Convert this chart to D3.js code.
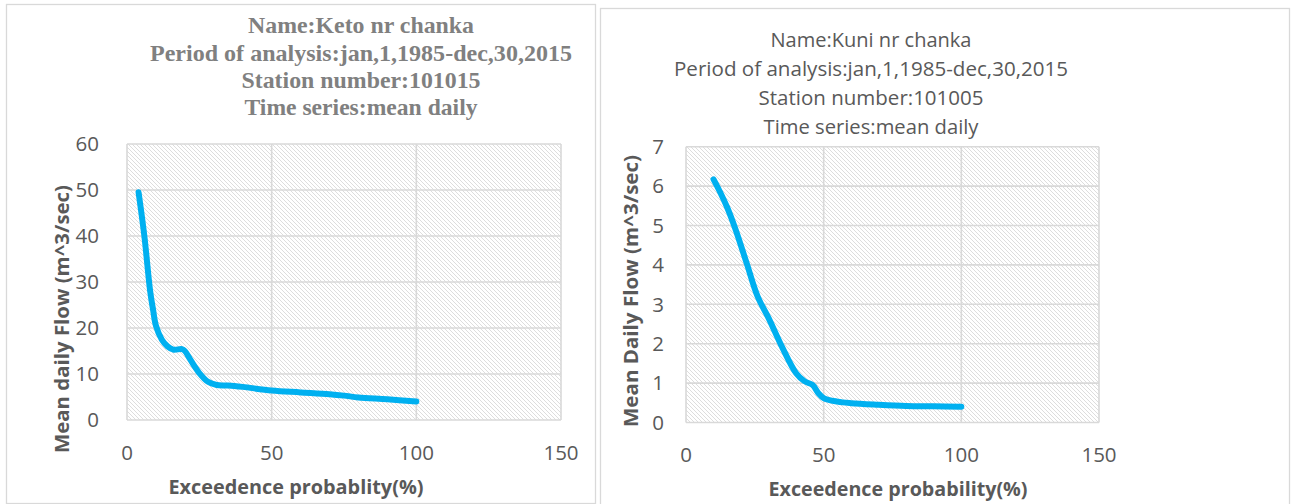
<!DOCTYPE html>
<html>
<head>
<meta charset="utf-8">
<title>Flow duration curves</title>
<script src="https://d3js.org/d3.v7.min.js"></script>
<style>
  body { margin: 0; background: #fff; }
  svg { display: block; }
</style>
</head>
<body>
<script>
// left chart: Keto nr chanka
const ketoTitle = ["Name:Keto nr chanka", "Period of analysis:jan,1,1985-dec,30,2015",
                   "Station number:101015", "Time series:mean daily"]
const ketoX = [4, 6, 8, 9, 10, 12, 14, 16, 19, 20, 22, 25, 28, 31, 35, 40, 50, 60, 70, 75, 80, 90, 100]
const ketoY = [49.5, 40, 28, 24, 20.5, 17.5, 16, 15.3, 15.4, 15, 13, 10.2, 8.3, 7.6, 7.5, 7.2, 6.4, 6.0, 5.6, 5.3, 4.9, 4.5, 4.0]
const ketoYTicks = [0, 10, 20, 30, 40, 50, 60]

// right chart: Kuni nr chanka
const kuniTitle = ["Name:Kuni nr chanka", "Period of analysis:jan,1,1985-dec,30,2015",
                   "Station number:101005", "Time series:mean daily"]
const kuniX = [10, 12, 15, 18, 22, 26, 30, 35, 40, 43, 46, 48, 50, 55, 60, 70, 80, 90, 100]
const kuniY = [6.17, 5.9, 5.45, 4.9, 4.05, 3.2, 2.65, 1.9, 1.25, 1.05, 0.95, 0.75, 0.62, 0.53, 0.49, 0.45, 0.42, 0.41, 0.40]
const kuniYTicks = [0, 1, 2, 3, 4, 5, 6, 7]

const xTicks = [0, 50, 100, 150]

const W = 1291, H = 504
const grid = "#d9d9d9", txt = "#595959", blue = "#00b0f0"

const svg = d3.select("body").append("svg").attr("width", W).attr("height", H)

// hatch fill of the plot areas
svg.append("defs").append("pattern")
  .attr("id", "hatch").attr("patternUnits", "userSpaceOnUse")
  .attr("width", 4).attr("height", 4)
  .selectAll("path").data(["M0,0L4,4", "M-1,3L1,5", "M3,-1L5,1"])
  .enter().append("path")
    .attr("d", d => d).attr("stroke", "#d4d4d4").attr("stroke-width", 0.8)

// fit a text to a width measured on the reference
const fit = (sel, w) => sel.attr("textLength", w).attr("lengthAdjust", "spacingAndGlyphs")

const chart = (o) => {
  svg.append("rect")
    .attr("x", o.box[0] + 0.5).attr("y", o.box[1] + 0.5)
    .attr("width", o.box[2] - o.box[0]).attr("height", o.box[3] - o.box[1])
    .attr("fill", "none").attr("stroke", grid).attr("stroke-width", 1.3)

  let x = d3.scaleLinear().domain([0, 150]).range(o.xr)
  let y = d3.scaleLinear().domain([0, d3.max(o.yTicks)]).range(o.yr)

  svg.append("rect")
    .attr("x", o.xr[0]).attr("y", o.yr[1])
    .attr("width", o.xr[1] - o.xr[0]).attr("height", o.yr[0] - o.yr[1])
    .attr("fill", "url(#hatch)")

  // gridlines
  svg.selectAll(null).data(o.yTicks).enter().append("line")
    .attr("x1", o.xr[0]).attr("x2", o.xr[1])
    .attr("y1", d => y(d)).attr("y2", d => y(d))
    .attr("stroke", grid).attr("stroke-width", 1.6)
  svg.selectAll(null).data(xTicks).enter().append("line")
    .attr("x1", d => x(d)).attr("x2", d => x(d))
    .attr("y1", o.yr[0]).attr("y2", o.yr[1])
    .attr("stroke", grid).attr("stroke-width", 1.6)

  // tick labels
  svg.selectAll(null).data(o.yTicks).enter().append("text")
    .attr("x", o.yLabX).attr("y", d => y(d)).attr("dy", "0.36em")
    .attr("text-anchor", "end")
    .style("font", "20.5px 'Open Sans'").attr("fill", txt)
    .text(d => d)
  svg.selectAll(null).data(xTicks).enter().append("text")
    .attr("x", d => x(d)).attr("y", o.xLabY)
    .attr("text-anchor", "middle")
    .style("font", "20.5px 'Open Sans'").attr("fill", txt)
    .text(d => d)

  // curve
  let pts = o.xs.map((d, i) => [d, o.ys[i]])
  svg.append("path")
    .datum(pts)
    .attr("d", d3.line().x(d => x(d[0])).y(d => y(d[1])).curve(d3.curveCatmullRom.alpha(0.5)))
    .attr("fill", "none").attr("stroke", blue).attr("stroke-width", 6)
    .attr("stroke-linecap", "round").attr("stroke-linejoin", "round")

  // titles
  o.title.forEach((t, i) => {
    svg.append("text")
      .attr("x", o.tx).attr("y", o.ty[i]).attr("text-anchor", "middle")
      .style("font", o.tfont).attr("fill", o.tcol)
      .text(t).call(fit, o.tw[i])
  })

  // axis titles
  svg.append("text")
    .attr("x", o.xtPos[0]).attr("y", o.xtPos[1]).attr("text-anchor", "middle")
    .style("font", "bold 20px 'Open Sans'").attr("fill", txt)
    .text(o.xTitle).call(fit, o.xtW)
  svg.append("text")
    .attr("transform", `translate(${o.ytPos[0]},${o.ytPos[1]}) rotate(-90)`)
    .attr("text-anchor", "middle")
    .style("font", "bold 20px 'Open Sans'").attr("fill", txt)
    .text(o.yTitle).call(fit, o.ytW)
}

chart({
  box: [6, 4, 595, 503],
  xr: [127, 561], yr: [420, 144],
  xs: ketoX, ys: ketoY, yTicks: ketoYTicks,
  yLabX: 99, xLabY: 460,
  title: ketoTitle, tx: 361, ty: [33, 61, 88, 115], tw: [226, 422, 239, 233],
  tfont: "bold 23px 'Liberation Serif'", tcol: "#808080",
  xTitle: "Exceedence probablity(%)", xtPos: [296, 494], xtW: 255,
  yTitle: "Mean daily Flow (m^3/sec)", ytPos: [69, 319], ytW: 268
})

chart({
  box: [600, 8, 1289, 505],
  xr: [686, 1099], yr: [422.5, 146.7],
  xs: kuniX, ys: kuniY, yTicks: kuniYTicks,
  yLabX: 664, xLabY: 462,
  title: kuniTitle, tx: 871, ty: [47, 76, 105, 134], tw: [201, 394, 225, 215],
  tfont: "20.5px 'Open Sans'", tcol: txt,
  xTitle: "Exceedence probability(%)", xtPos: [898, 496], xtW: 259,
  yTitle: "Mean Daily Flow (m^3/sec)", ytPos: [638, 291], ytW: 272
})
</script>
</body>
</html>
